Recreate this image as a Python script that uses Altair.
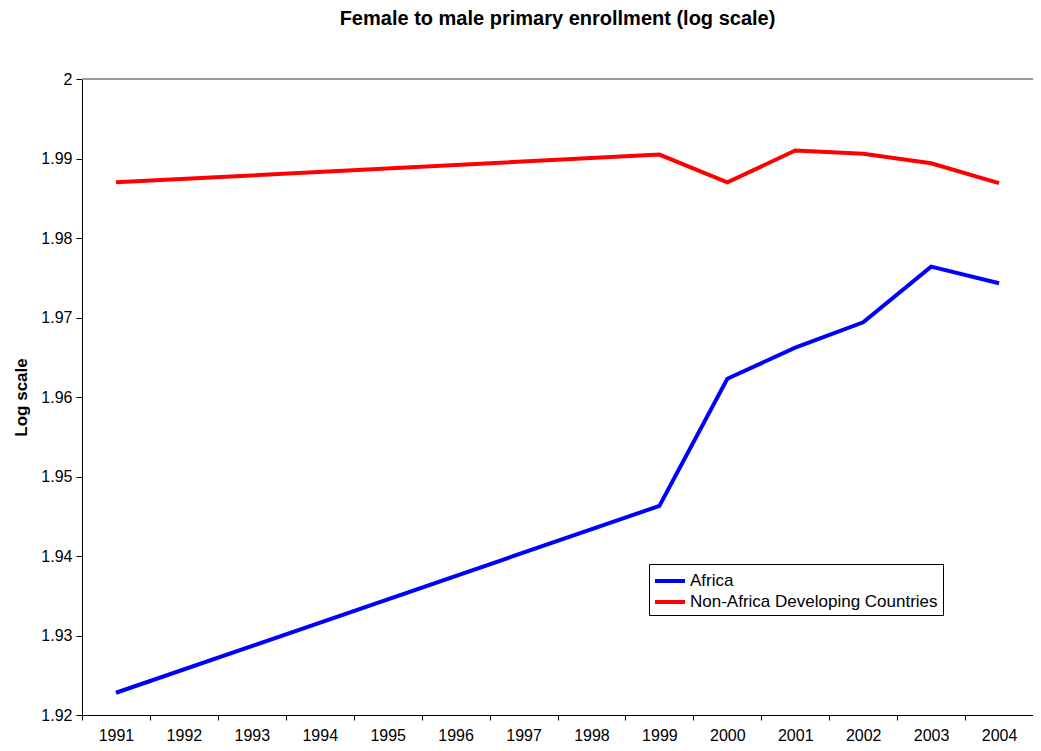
import altair as alt
import pandas as pd

years_africa = [1991, 1999, 2000, 2001, 2002, 2003, 2004]
africa = [1.9228, 1.9463, 1.9623, 1.9662, 1.9694, 1.9764, 1.9743]
years_other = [1991, 1999, 2000, 2001, 2002, 2003, 2004]
non_africa = [1.9870, 1.9905, 1.9870, 1.9910, 1.9906, 1.9894, 1.9869]
all_years = [str(y) for y in range(1991, 2005)]
series_names = ["Africa", "Non-Africa Developing Countries"]
y_ticks = [1.92, 1.93, 1.94, 1.95, 1.96, 1.97, 1.98, 1.99, 2.0]

rows = []
for y, v in zip(years_africa, africa):
    rows.append({"year": str(y), "value": v, "series": series_names[0]})
for y, v in zip(years_other, non_africa):
    rows.append({"year": str(y), "value": v, "series": series_names[1]})
df = pd.DataFrame(rows)

FONT = "Liberation Sans"

x_enc = alt.X("year:O", scale=alt.Scale(domain=all_years, paddingInner=0, paddingOuter=0),
              axis=alt.Axis(title=None, labelAngle=0, tickBand="extent", labelFontSize=16,
                            labelFont=FONT, labelColor="#000", domainColor="#000",
                            tickColor="#000", tickSize=5, labelPadding=7, grid=False))
y_enc = alt.Y("value:Q", scale=alt.Scale(domain=[1.92, 2.0], nice=False, zero=False),
              axis=alt.Axis(title="Log scale", values=y_ticks, format="~g", labelFontSize=16,
                            labelFont=FONT, labelColor="#000", titleFont=FONT, titleFontSize=17,
                            titleFontWeight="bold", titleColor="#000", titlePadding=10,
                            domainColor="#000", tickColor="#000", tickSize=6, grid=False,
                            labelPadding=4))

lines = alt.Chart(df).mark_line(strokeWidth=4).encode(
    x=x_enc,
    y=y_enc,
    color=alt.Color("series:N",
                    scale=alt.Scale(domain=series_names, range=["#0000FF", "#FF0000"]),
                    legend=alt.Legend(title=None, orient="none", legendX=567, legendY=485,
                                      symbolType="M-1.5,0H1.5", symbolStrokeWidth=4,
                                      symbolSize=400,
                                      labelFontSize=17, labelFont=FONT, labelColor="#000",
                                      fillColor="white", strokeColor="#000", padding=5,
                                      rowPadding=1, labelLimit=400, labelOffset=8,
                                      symbolOffset=4)),
)

top = alt.Chart(pd.DataFrame({"value": [2.0]})).mark_rule(color="#999999", strokeWidth=2).encode(
    y=y_enc
)

chart = alt.layer(top, lines).properties(
    width=951, height=636,
    title=alt.TitleParams("Female to male primary enrollment (log scale)", font=FONT,
                          fontSize=20, fontWeight="bold", color="#000", offset=42,
                          anchor="middle"),
    padding={"left": 74, "top": 71, "right": 0, "bottom": 28},
    autosize=alt.AutoSizeParams(type="none"),
).configure_view(stroke=None)

chart.save("out.html", embed_options={"renderer": "svg", "actions": False})
